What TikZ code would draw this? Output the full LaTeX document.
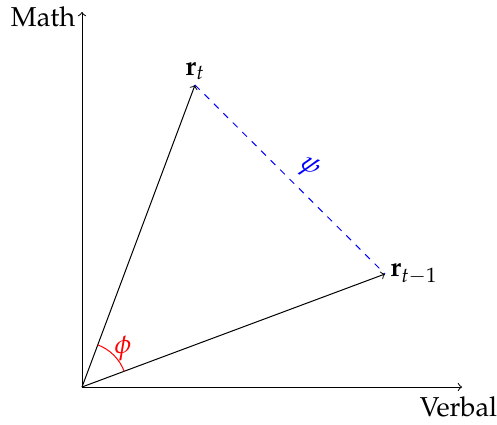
\documentclass[tikz,border=0pt]{standalone}
\usepackage[T1]{fontenc}
\usepackage{mathpazo}
\usetikzlibrary{arrows,calc}
\begin{document}
\begin{tikzpicture}[x=0.45pt,y=-0.45pt,
  every node/.style={font=\fontsize{12.3}{14}\selectfont},
  axis/.style={->,black,line width=0.45pt},
  vec/.style={->,black,line width=0.45pt},
  diff/.style={blue,dashed,line width=0.45pt},
  lab/.style={inner sep=2pt}]
\useasboundingbox (0,0) rectangle (497,425);
\coordinate (O) at (82,387);
\coordinate (X) at (462,387);
\coordinate (Y) at (82,12);
\coordinate (Rt) at (195,85);
\coordinate (Rt1) at (385,274);
\draw[axis] (O) -- (X) node[below,lab,xshift=-1.6pt,yshift=-2pt] (xl) {Verbal};
\draw[axis] (O) -- (Y) node[left,lab,yshift=-2pt,xshift=-0.8pt] (yl) {Math};
\draw[vec] (O) -- (Rt) node[above,lab] (rt) {$\mathbf{r}_t$};
\draw[vec] (O) -- (Rt1) node[right,lab] (rt1) {$\mathbf{r}_{t-1}$};
\draw[diff] (Rt) -- node[midway,above,sloped,inner sep=4pt,xshift=2pt] (psi) {$\psi$} (Rt1);
\draw[red,line width=0.45pt] ($(O)+(-20.3:45)$) arc[start angle=-20.3,end angle=-69.5,radius=45];
\node[red] (phi) at (123,348) {$\phi$};
\end{tikzpicture}
\end{document}
